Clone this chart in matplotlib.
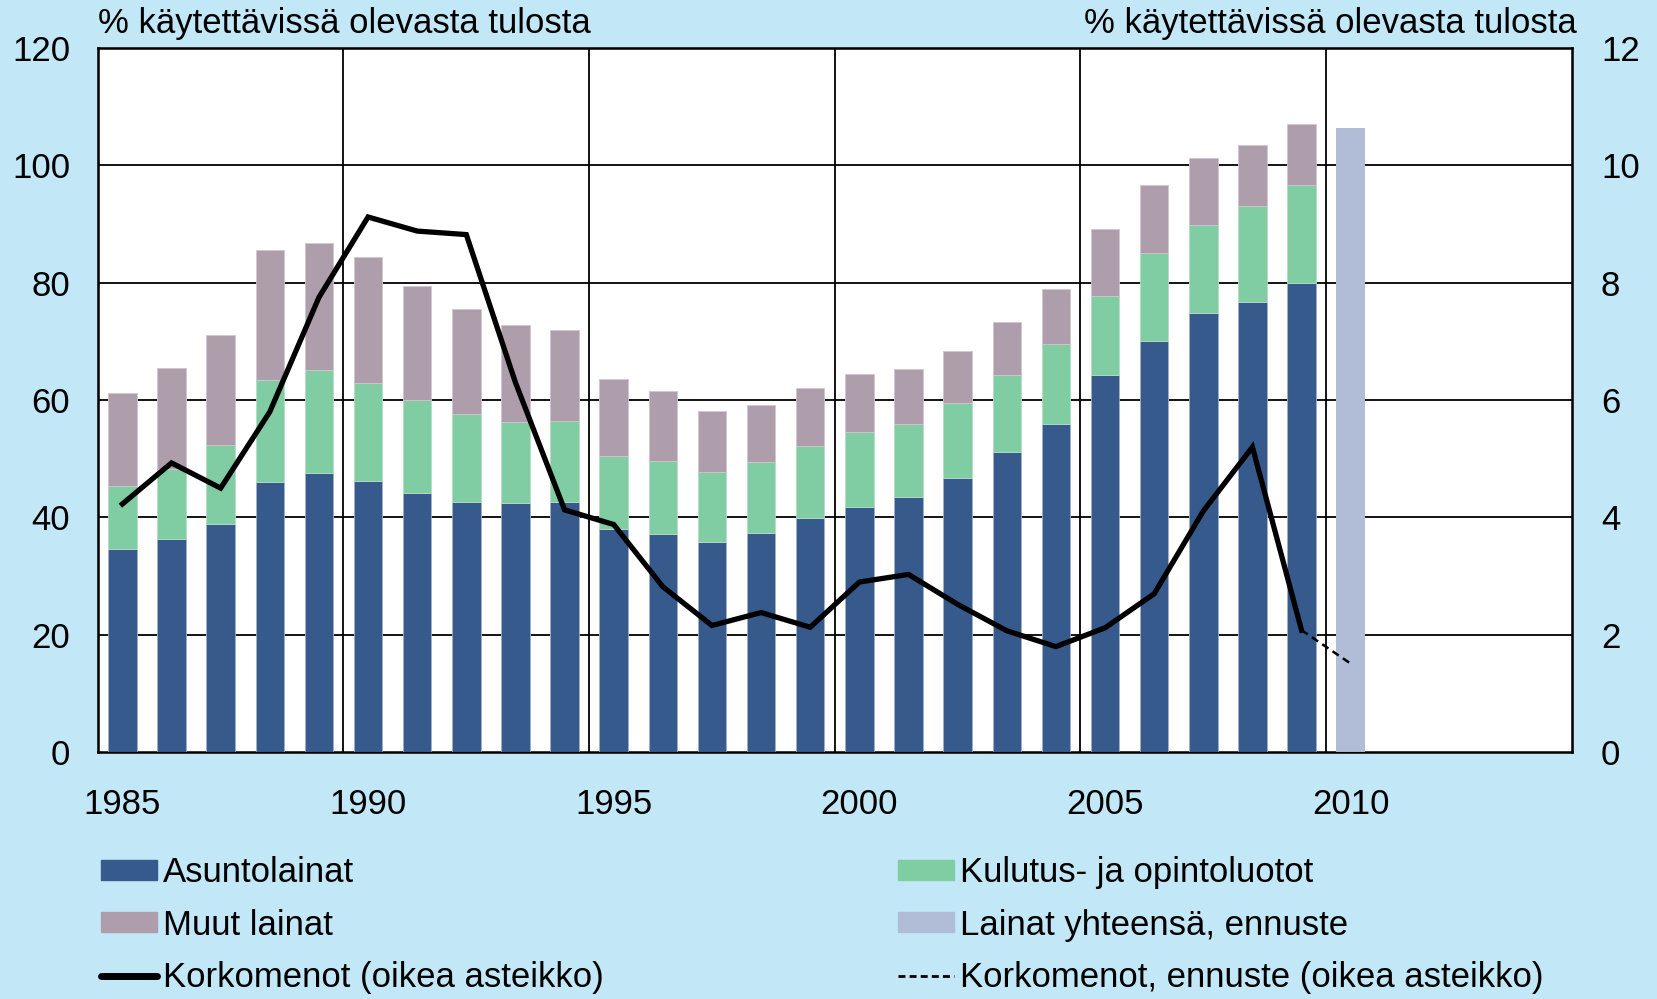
import matplotlib
matplotlib.use('Agg')
import matplotlib.pyplot as plt
from matplotlib.patches import Patch
from matplotlib.lines import Line2D

plt.rcParams['font.family'] = ['Liberation Sans', 'DejaVu Sans']

# data
years = list(range(1985, 2010))
asuntolainat = [34.7, 36.4, 38.9, 46.0, 47.6, 46.3, 44.1, 42.7, 42.5, 42.7,
                38.0, 37.2, 35.9, 37.4, 39.9, 41.8, 43.5, 46.8, 51.2, 56.0,
                64.2, 70.0, 74.8, 76.7, 80.0]
kulutus_total = [45.3, 48.3, 52.4, 63.4, 65.1, 62.9, 60.0, 57.6, 56.2, 56.5,
                 50.5, 49.6, 47.7, 49.4, 52.1, 54.5, 55.9, 59.5, 64.2, 69.5,
                 77.8, 85.0, 89.9, 93.0, 96.6]
muut_total = [61.2, 65.4, 71.1, 85.6, 86.8, 84.3, 79.4, 75.5, 72.8, 71.9,
              63.6, 61.5, 58.1, 59.2, 62.0, 64.5, 65.3, 68.3, 73.3, 78.9,
              89.2, 96.6, 101.2, 103.4, 107.0]
forecast_years = [2010]
forecast_total = [106.3]
korkomenot = [4.23, 4.93, 4.50, 5.80, 7.75, 9.12, 8.88, 8.82, 6.30, 4.13,
              3.88, 2.82, 2.16, 2.38, 2.13, 2.90, 3.03, 2.52, 2.07, 1.80,
              2.12, 2.70, 4.11, 5.20, 2.08]
korko_ennuste_years = [2009, 2010]
korko_ennuste = [2.08, 1.51]
xtick_years = [1985, 1990, 1995, 2000, 2005, 2010]
vgrid = [1989.5, 1994.5, 1999.5, 2004.5, 2009.5]

kulutus = [k - a for k, a in zip(kulutus_total, asuntolainat)]
muut = [m - k for m, k in zip(muut_total, kulutus_total)]

c_blue = '#375A8C'
c_green = '#80CCA3'
c_mauve = '#AE9EAC'
c_fore = '#B1BDD7'
bg = '#C2E8F8'
fs = 25

fig = plt.figure(figsize=(16.58, 9.99), dpi=100, facecolor=bg)

ax = fig.add_axes([0.059, 0.247, 0.889, 0.705])
ax.set_facecolor('white')

w = 0.58
ax.bar(years, asuntolainat, width=w, color=c_blue, edgecolor='#9FB0C8', linewidth=0.6, zorder=3)
ax.bar(years, kulutus, width=w, bottom=asuntolainat, color=c_green, edgecolor='#B9DCC8', linewidth=0.6, zorder=3)
ax.bar(years, muut, width=w, bottom=kulutus_total, color=c_mauve, edgecolor='#D0C6CE', linewidth=0.6, zorder=3)
ax.bar(forecast_years, forecast_total, width=w, color=c_fore, zorder=3)

ax.set_xlim(1984.5, 2014.5)
ax.set_ylim(0, 120)
ax.set_yticks(range(0, 121, 20))
ax.set_xticks(xtick_years)
for g in range(20, 120, 20):
    ax.axhline(g, color='black', linewidth=1.3, zorder=1)
for v in vgrid:
    ax.axvline(v, color='black', linewidth=1.3, zorder=1)
for s in ax.spines.values():
    s.set_linewidth(1.8)
ax.tick_params(axis='both', length=0, labelsize=fs)
ax.tick_params(axis='y', pad=20)
ax.tick_params(axis='x', pad=26)

ax2 = ax.twinx()
ax2.set_ylim(0, 12)
ax2.set_yticks(range(0, 13, 2))
ax2.tick_params(axis='y', length=0, labelsize=fs, pad=21)
ax2.plot(years, korkomenot, color='black', linewidth=3.8, solid_joinstyle='miter', zorder=5)
ax2.plot(korko_ennuste_years, korko_ennuste, color='black', linewidth=1.8, dashes=(3, 2), zorder=5)

fig.text(0.059, 0.976, '% käytettävissä olevasta tulosta', fontsize=fs, ha='left', va='center')
fig.text(0.951, 0.976, '% käytettävissä olevasta tulosta', fontsize=fs, ha='right', va='center')

handles = [Patch(color=c_blue), Patch(color=c_mauve),
           Line2D([], [], color='black', linewidth=5, solid_capstyle='round'),
           Patch(color=c_green), Patch(color=c_fore),
           Line2D([], [], color='black', linewidth=2, dashes=(2.5, 1.5))]
labels = ['Asuntolainat', 'Muut lainat', 'Korkomenot (oikea asteikko)',
          'Kulutus- ja opintoluotot', 'Lainat yhteensä, ennuste',
          'Korkomenot, ennuste (oikea asteikko)']
fig.legend(handles, labels, ncol=2, loc='upper left', bbox_to_anchor=(0.061, 0.143),
           frameon=False, fontsize=fs, handlelength=1.6, handleheight=0.5,
           handletextpad=0.17, columnspacing=8.5, labelspacing=0.56, borderpad=0,
           borderaxespad=0)

fig.savefig('out.png', dpi=100, facecolor=bg)
